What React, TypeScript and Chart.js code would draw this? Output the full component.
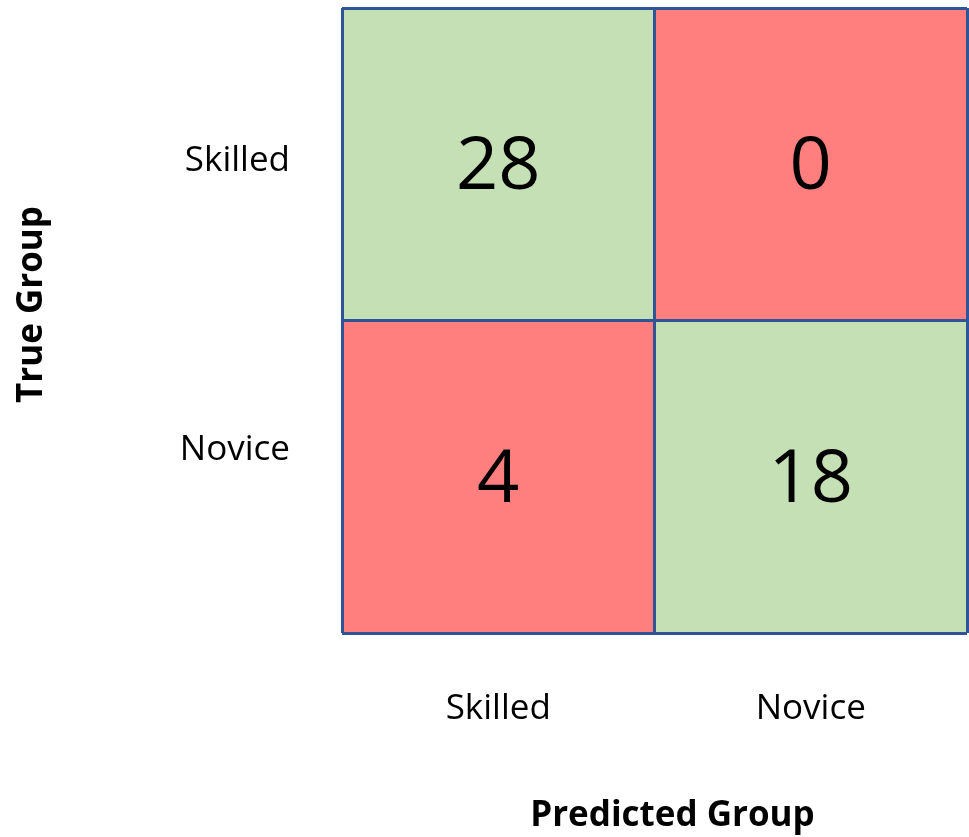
import React, { useEffect, useRef } from "react";
import { Chart, registerables } from "chart.js";

Chart.register(...registerables);

// Predicted group (columns) and true group (rows)
const predictedLabels = ["Skilled", "Novice"];
const trueLabels = ["Novice", "Skilled"]; // bottom row first
const trueTickValues = [0.585, 1.51]; // tick positions for row labels (bottom, top)
const noviceRowCounts = [4, 18];
const skilledRowCounts = [28, 0];
const cellUnit = [1, 1];

const GREEN = "#C5E0B4";
const RED = "#FF7F7F";
const BORDER = "#2F5597";
const FONT = "'Open Sans', sans-serif";

const rows = [
  { label: "Novice", counts: noviceRowCounts, rowIndex: 1 },
  { label: "Skilled", counts: skilledRowCounts, rowIndex: 0 },
];

const countsPlugin = {
  id: "cellCounts",
  afterDraw(chart: any) {
    const ctx = chart.ctx;
    ctx.save();
    ctx.font = `74px ${FONT}`;
    ctx.fillStyle = "#000";
    ctx.textAlign = "center";
    ctx.textBaseline = "middle";
    chart.data.datasets.forEach((ds: any, di: number) => {
      const meta = chart.getDatasetMeta(di);
      meta.data.forEach((bar: any, i: number) => {
        const cy = (bar.y + bar.base) / 2 + 4;
        ctx.fillText(String(ds.counts[i]), bar.x, cy);
      });
    });
    ctx.restore();
  },
};

const titlesPlugin = {
  id: "axisTitlesCustom",
  afterDraw(chart: any) {
    const ctx = chart.ctx;
    const area = chart.chartArea;
    ctx.save();
    ctx.font = `bold 35px ${FONT}`;
    ctx.fillStyle = "#000";
    ctx.textAlign = "center";
    ctx.textBaseline = "middle";
    // x title
    ctx.fillText("Predicted Group", (area.left + area.right) / 2 + 18, chart.height - 21);
    // y title
    ctx.translate(32, (area.top + area.bottom) / 2 - 16);
    ctx.rotate(-Math.PI / 2);
    ctx.fillText("True Group", 0, 0);
    ctx.restore();
  },
};

export default function App() {
  const ref = useRef<HTMLCanvasElement | null>(null);

  useEffect(() => {
    if (!ref.current) return;
    const chart = new Chart(ref.current, {
      type: "bar",
      data: {
        labels: predictedLabels,
        datasets: rows.map((r) => ({
          label: r.label,
          data: cellUnit,
          counts: r.counts,
          backgroundColor: predictedLabels.map((_, ci) => (ci === r.rowIndex ? GREEN : RED)),
          borderWidth: 0,
          categoryPercentage: 1,
          barPercentage: 1,
        })) as any,
      },
      options: {
        animation: false,
        responsive: false,
        maintainAspectRatio: false,
        layout: { padding: { top: 8, right: 2, left: 0, bottom: 0 } },
        plugins: {
          legend: { display: false },
          tooltip: { enabled: false },
        },
        scales: {
          x: {
            stacked: true,
            offset: true,
            grid: { display: true, offset: true, color: BORDER, lineWidth: 3, drawTicks: false, z: 1 },
            border: { display: false },
            ticks: { font: { family: FONT, size: 35 }, color: "#000", padding: 55, maxRotation: 0 },
            afterFit: (scale: any) => {
              scale.height = 204;
              scale.paddingLeft = 0;
              scale.paddingRight = 0;
            },
          },
          y: {
            stacked: true,
            min: 0,
            max: 2,
            grid: { display: false, drawTicks: false },
            border: { display: false },
            ticks: {
              font: { family: FONT, size: 35 },
              color: "#000",
              padding: 52,
              callback: (_v: any, i: number) => trueLabels[i],
            },
            afterBuildTicks: (scale: any) => {
              scale.ticks = trueTickValues.map((v) => ({ value: v }));
            },
            afterFit: (scale: any) => {
              scale.width = 342;
              scale.paddingTop = 0;
              scale.paddingBottom = 0;
            },
          },
          y2: {
            type: "linear",
            position: "right",
            min: 0,
            max: 2,
            grid: { color: BORDER, lineWidth: 3, drawTicks: false, z: 1 },
            border: { display: false },
            ticks: { display: false, stepSize: 1 },
            afterFit: (scale: any) => {
              scale.width = 0;
              scale.paddingTop = 0;
              scale.paddingBottom = 0;
            },
          },
        },
      } as any,
      plugins: [countsPlugin, titlesPlugin],
    });
    return () => chart.destroy();
  }, []);

  return (
    <div style={{ position: "absolute", left: 0, top: 0, width: 969, height: 837, background: "#fff" }}>
      <canvas ref={ref} width={969} height={837} style={{ width: 969, height: 837, display: "block" }} />
    </div>
  );
}
